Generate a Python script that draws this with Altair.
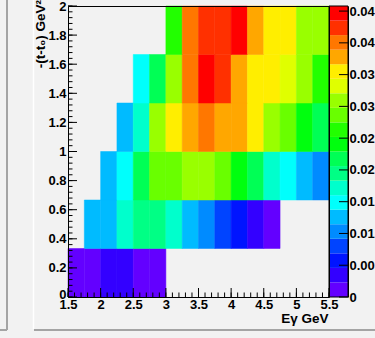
import colorsys
import altair as alt
import pandas as pd

# ---------------- data ----------------
e_edges = [1.5, 1.75, 2.0, 2.25, 2.5, 2.75, 3.0, 3.25, 3.5, 3.75, 4.0, 4.25, 4.5, 4.75, 5.0, 5.25, 5.5]
t_edges = [0.0, 1 / 3, 2 / 3, 1.0, 4 / 3, 5 / 3, 2.0]

N = None
row_0 = [0.0012, 0.0012, 0.0035, 0.0035, 0.0010, 0.0010, N, N, N, N, N, N, N, N, N, N]
row_1 = [N, 0.0125, 0.0130, 0.0170, 0.0192, 0.0198, 0.0175, 0.0128, 0.0101, 0.0082, 0.0055, 0.0033, 0.0013, N, N, N]
row_2 = [N, N, 0.0124, 0.0150, 0.0215, 0.0284, 0.0290, 0.0305, 0.0312, 0.0282, 0.0243, 0.0220, 0.0168, 0.0147, 0.0121, 0.0104]
row_3 = [N, N, N, 0.0127, 0.0173, 0.0308, 0.0352, 0.0380, 0.0403, 0.0376, 0.0382, 0.0358, 0.0311, 0.0287, 0.0242, 0.0216]
row_4 = [N, N, N, N, 0.0148, 0.0219, 0.0310, 0.0398, 0.0452, 0.0421, 0.0379, 0.0356, 0.0353, 0.0333, 0.0307, 0.0265]
row_5 = [N, N, N, N, N, N, 0.0262, 0.0404, 0.0427, 0.0425, 0.0458, 0.0375, 0.0354, 0.0357, 0.0306, 0.0312]
rows = [row_0, row_1, row_2, row_3, row_4, row_5]

x_major = [1.5, 2.0, 2.5, 3.0, 3.5, 4.0, 4.5, 5.0, 5.5]
y_major = [0.0, 0.2, 0.4, 0.6, 0.8, 1.0, 1.2, 1.4, 1.6, 1.8, 2.0]
x_minor = [round(1.5 + 0.1 * k, 2) for k in range(41)]
y_minor = [round(0.04 * k, 2) for k in range(51)]
cb_values = [0.0, 0.005, 0.01, 0.015, 0.02, 0.025, 0.03, 0.035, 0.04, 0.045]

records = []
for j, row in enumerate(rows):
    for i, v in enumerate(row):
        if v is None:
            continue
        records.append(dict(e0=e_edges[i], e1=e_edges[i + 1], t0=t_edges[j], t1=t_edges[j + 1], w=v))
cells = pd.DataFrame(records)

zmax = float(cells["w"].max())
n_cont = 20

# ROOT "pretty" palette (50 hues), sampled for 20 contour levels
pal50 = []
for i in range(50):
    hue = 280 - (i + 1) * 280 / 50
    r, g, b = colorsys.hls_to_rgb(hue / 360, 0.5, 1.0)
    pal50.append("#%02x%02x%02x" % (round(r * 255), round(g * 255), round(b * 255)))
palette = [pal50[int((c + 0.99) * 50 / n_cont)] for c in range(n_cont)]

bands = pd.DataFrame({
    "lo": [zmax * k / n_cont for k in range(n_cont)],
    "hi": [zmax * (k + 1) / n_cont for k in range(n_cont)],
    "mid": [zmax * (k + 0.5) / n_cont for k in range(n_cont)],
})

# ---------------- layout / style ----------------
OX, OY = 68, 6
W, H = 261, 291
CBW = 19
MAJ, MIN = 9, 4.5
FONT = "Liberation Sans"
lab = dict(labelFont=FONT, labelFontSize=13, labelFontWeight="bold", labelColor="black")
ttl = dict(titleFont=FONT, titleFontSize=13.5, titleFontWeight="bold", titleColor="black")


def xs():
    return alt.Scale(domain=[1.5, 5.5], nice=False, zero=False)


def ys():
    return alt.Scale(domain=[0.0, 2.0], nice=False, zero=False)


def cys():
    return alt.Scale(domain=[0, zmax], nice=False, zero=False)


cscale = alt.Scale(type="quantize", domain=[0, zmax], range=palette, nice=False)

heat = alt.Chart(cells).mark_rect(strokeWidth=0.5).encode(
    x=alt.X("e0:Q", scale=xs(), axis=alt.Axis(
        values=x_major, format="~g", ticks=False, domain=True, domainColor="black", domainWidth=1,
        grid=False, labelPadding=1, labelOverlap=False, labelFlush=False, zindex=1,
        title="Eγ GeV", titleAnchor="end", titleAlign="right", titleX=W - 1, titleY=25,
        titleBaseline="alphabetic", **lab, **ttl)),
    x2="e1:Q",
    y=alt.Y("t0:Q", scale=ys(), axis=alt.Axis(
        values=y_major, format="~g", ticks=False, domain=True, domainColor="black", domainWidth=1,
        grid=False, labelPadding=2, labelOverlap=False, labelFlush=False, zindex=1,
        labelOffset={"condition": {"test": "datum.value == 0", "value": -3},
                     "value": 0},
        title="-(t-t₀) GeV²", titleAngle=270, titleAlign="right", titleBaseline="alphabetic",
        titleX=-23.5, titleY=-6.5, **lab, **ttl)),
    y2="t1:Q",
    color=alt.Color("w:Q", scale=cscale, legend=None),
    stroke=alt.Stroke("w:Q", scale=cscale, legend=None),
)

frame = alt.Chart(cells).mark_point(opacity=0).encode(
    x=alt.X("e0:Q", scale=xs(), title=None, axis=alt.Axis(
        orient="top", labels=False, ticks=False, grid=False, domain=True,
        domainColor="black", domainWidth=1, zindex=1)),
    y=alt.Y("t0:Q", scale=ys(), title=None, axis=alt.Axis(
        orient="right", labels=False, ticks=False, grid=False, domain=True,
        domainColor="black", domainWidth=1, zindex=1)),
)


# tick marks drawn inside the frame, positioned through the scales
def xticks(vals, size):
    return alt.Chart(pd.DataFrame({"v": vals})).mark_rule(color="black", strokeWidth=1).encode(
        x=alt.X("v:Q", scale=xs(), axis=None), y=alt.value(H), y2=alt.value(H - size))


def yticks(vals, size):
    return alt.Chart(pd.DataFrame({"v": vals})).mark_rule(color="black", strokeWidth=1).encode(
        y=alt.Y("v:Q", scale=ys(), axis=None), x=alt.value(0), x2=alt.value(size))


# ---------------- colour bar ----------------
cb_rect = alt.Chart(bands).mark_rect().encode(
    x=alt.value(W), x2=alt.value(W + CBW),
    y=alt.Y("lo:Q", scale=cys(), title=None, axis=alt.Axis(
        orient="right", offset=CBW, values=cb_values,
        labelExpr="datum.value == 0 ? '0' : substring(format(datum.value, '.3f'), 0, 4)",
        ticks=False, domain=True, domainColor="black", domainWidth=1, grid=False,
        labelPadding=1, labelOverlap=False, zindex=1, **lab)),
    y2="hi:Q",
    color=alt.Color("mid:Q", scale=cscale, legend=None),
)
cb_ticks = alt.Chart(pd.DataFrame({"v": cb_values})).mark_rule(color="black", strokeWidth=1).encode(
    y=alt.Y("v:Q", scale=cys(), axis=None), x=alt.value(W + CBW - MAJ), x2=alt.value(W + CBW))

one = alt.Data(values=[{"k": 0}])

cb_frame = alt.Chart(one).mark_rect(fillOpacity=0, stroke="black", strokeWidth=1).encode(
    x=alt.value(W), x2=alt.value(W + CBW), y=alt.value(0), y2=alt.value(H))


def deco(x1, x2, y1, y2, color, width):
    return alt.Chart(one).mark_rule(color=color, strokeWidth=width).encode(
        x=alt.value(x1 - OX), x2=alt.value(x2 - OX),
        y=alt.value(y1 - OY), y2=alt.value(y2 - OY))


decos = [
    deco(7, 7, 0, 330, "#a4a4a4", 2),
    deco(0, 7, 330, 330, "#a4a4a4", 2),
    deco(33.5, 33.5, 0, 329, "#ffffff", 1.5),
    deco(34, 375, 330, 330, "#a4a4a4", 2),
]

chart = alt.layer(
    heat, frame,
    xticks(x_minor, MIN), xticks(x_major, MAJ), yticks(y_minor, MIN), yticks(y_major, MAJ),
    cb_rect, cb_frame, cb_ticks, *decos
).resolve_scale(
    x="independent", y="independent"
).resolve_axis(
    x="independent", y="independent"
).properties(
    width=W, height=H,
    autosize=alt.AutoSizeParams(type="none"),
    padding={"left": OX, "top": OY, "right": 375 - OX - W, "bottom": 338 - OY - H},
).configure(
    background="#f2f2f2"
).configure_view(strokeWidth=0)

chart.save("out.html", embed_options={"renderer": "svg", "actions": False})
